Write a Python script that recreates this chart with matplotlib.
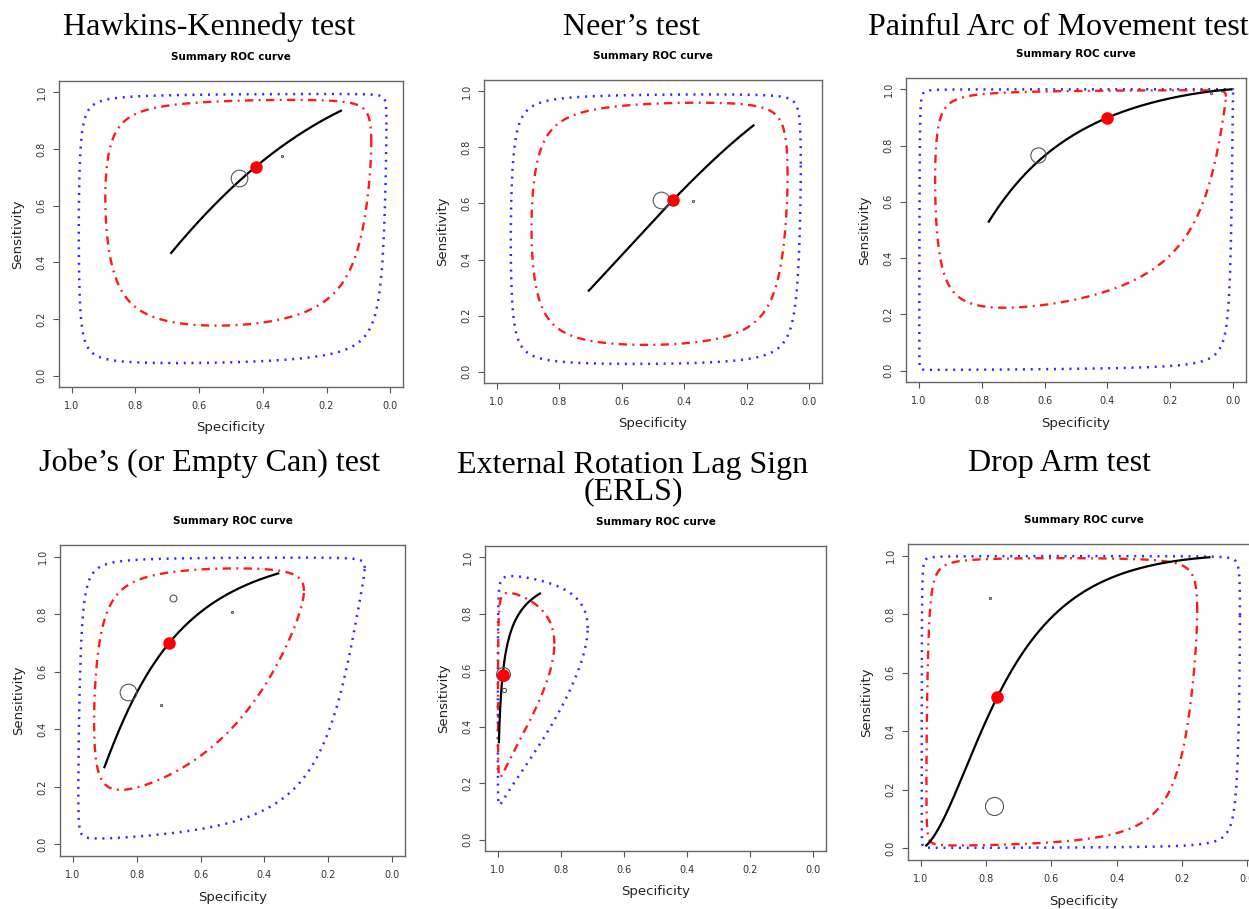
import numpy as np
import matplotlib.pyplot as plt

# Test shown in each panel
test_names = ["Hawkins-Kennedy test", "Neer\u2019s test", "Painful Arc of Movement test",
              "Jobe\u2019s (or Empty Can) test", "External Rotation Lag Sign\n(ERLS)",
              "Drop Arm test"]

# Pooled (summary) estimate for each test
summary_spec = [0.423, 0.436, 0.400, 0.698, 0.984, 0.766]
summary_sens = [0.737, 0.612, 0.899, 0.700, 0.584, 0.517]

# SROC line: slope on the logit scale and the specificity range covered
sroc_slope = [1.18, 1.20, 1.25, 1.35, 0.70, 1.60]
sroc_spec_start = [0.688, 0.705, 0.777, 0.901, 0.996, 0.984]
sroc_spec_end = [0.155, 0.179, 0.008, 0.357, 0.866, 0.115]

# 95% confidence region (logit scale): sd of FPR, sd of sensitivity, correlation
conf_sd_fpr = [2.45, 2.33, 3.30, 1.80, 2.60, 2.90]
conf_sd_sens = [2.57, 2.70, 3.43, 2.30, 1.60, 4.70]
conf_rho = [0.20, 0.15, 0.42, 0.50, 0.30, 0.30]

# 95% prediction region (logit scale)
pred_sd_fpr = [4.10, 3.30, 6.50, 3.20, 3.20, 5.00]
pred_sd_sens = [4.10, 4.00, 8.00, 4.70, 2.30, 6.50]
pred_rho = [0.25, 0.15, 0.50, 0.50, 0.33, 0.20]

# Individual studies and their relative weight
study_spec = [[0.476, 0.339], [0.473, 0.372], [0.621, 0.072],
              [0.826, 0.685, 0.503, 0.723], [0.982, 0.979], [0.776, 0.789]]
study_sens = [[0.697, 0.776], [0.612, 0.608], [0.767, 0.987],
              [0.530, 0.855, 0.808, 0.483], [0.588, 0.531], [0.145, 0.856]]
study_weight = [[12, 1.5], [12, 1.5], [11, 1.5], [12, 5, 1.5, 1.5], [10, 3], [13, 1.5]]

tick_values = [0.0, 0.2, 0.4, 0.6, 0.8, 1.0]
tick_labels = ["0.0", "0.2", "0.4", "0.6", "0.8", "1.0"]

# Panel frames in pixels: left, top, right, bottom
W, H = 1249, 909
boxes = [(59, 81, 403, 387), (484, 80, 822, 383), (906, 78, 1246, 382),
         (60, 545, 405, 856), (485, 546, 826, 851), (908, 544, 1260, 860)]
# Heading positions in pixels (centre x, baseline of last line)
heading_pos = [(209, 35), (632, 35), (1058, 35), (210, 471), (633, 499), (1059, 471)]


def logit(p):
    return np.log(p / (1 - p))


def expit(x):
    return 1 / (1 + np.exp(-x))


# Ellipse on the logit scale, returned as (specificity, sensitivity)
def region(spec, sens, sd_fpr, sd_sens, rho, n=500):
    t = np.linspace(0, 2 * np.pi, n)
    lx = logit(1 - spec) + sd_fpr * np.cos(t)
    ly = logit(sens) + sd_sens * (rho * np.cos(t) + np.sqrt(1 - rho ** 2) * np.sin(t))
    return 1 - expit(lx), expit(ly)


# Straight SROC line on the logit scale through the summary point
def sroc(spec, sens, slope, start, end, n=200):
    lx = np.linspace(logit(1 - start), logit(1 - end), n)
    ly = logit(sens) + slope * (lx - logit(1 - spec))
    return 1 - expit(lx), expit(ly)


fig = plt.figure(figsize=(W / 100, H / 100), dpi=100)

for i in range(6):
    left, top, right, bottom = boxes[i]
    ax = fig.add_axes([left / W, 1 - bottom / H, (right - left) / W, (bottom - top) / H])
    w_px, h_px = right - left, bottom - top

    # prediction region (blue dotted) and confidence region (red dot-dash)
    px, py = region(summary_spec[i], summary_sens[i], pred_sd_fpr[i], pred_sd_sens[i], pred_rho[i])
    ax.plot(px, py, color="#2a2aff", lw=1.8, dashes=(0.8, 2.3))
    cx, cy = region(summary_spec[i], summary_sens[i], conf_sd_fpr[i], conf_sd_sens[i], conf_rho[i])
    ax.plot(cx, cy, color="#ff1a1a", lw=1.7, dashes=(3.5, 2.3, 0.8, 2.3))

    # summary ROC curve
    sx, sy = sroc(summary_spec[i], summary_sens[i], sroc_slope[i],
                  sroc_spec_start[i], sroc_spec_end[i])
    ax.plot(sx, sy, color="black", lw=1.6)

    # individual studies
    for s, e, wgt in zip(study_spec[i], study_sens[i], study_weight[i]):
        ax.plot(s, e, "o", ms=wgt, mfc="none", mec="#555555", mew=0.8)

    # summary point
    ax.plot(summary_spec[i], summary_sens[i], "o", ms=8, color="#ff0000")

    ax.set_xlim(1.04, -0.04)
    ax.set_ylim(-0.04, 1.04)
    ax.set_xticks(tick_values)
    ax.set_xticklabels(tick_labels)
    ax.set_yticks(tick_values)
    ax.set_yticklabels(tick_labels, rotation=90, va="center")
    ax.tick_params(direction="out", length=4, width=0.8, colors="#555555",
                   labelcolor="#333333", labelsize=7)
    ax.tick_params(axis="x", pad=6)
    ax.tick_params(axis="y", pad=5)
    for sp in ax.spines.values():
        sp.set_color("#666666")
        sp.set_linewidth(1.0)

    ax.set_xlabel("Specificity", fontsize=9.5, color="#222222", va="center")
    ax.xaxis.set_label_coords(0.5, -41 / h_px)
    ax.set_ylabel("Sensitivity", fontsize=9.5, color="#222222", va="center")
    ax.yaxis.set_label_coords(-41 / w_px, 0.5)
    ax.set_title("Summary ROC curve", fontsize=7.5, fontweight="bold", pad=15)

    # test name above the panel
    hx, hy = heading_pos[i]
    fig.text(hx / W, 1 - hy / H, test_names[i], ha="center", va="baseline",
             fontsize=23, family="Liberation Serif", linespacing=0.85)

fig.savefig("out.png", dpi=100)
